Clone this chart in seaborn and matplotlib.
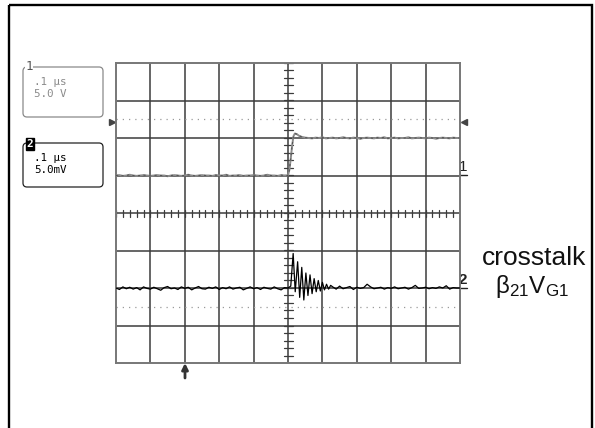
import numpy as np
import pandas as pd
import seaborn as sns
import matplotlib.pyplot as plt
from matplotlib.patches import FancyBboxPatch, Rectangle

# time base: 0.1 us/div, 10 divisions, trigger at centre; values in divisions
t1_pre = np.linspace(-0.5, 0.0, 51)
v1_pre = [1.00, 1.01, 0.99, 1.00, 1.02, 1.00, 0.99, 1.00, 1.01, 1.00,
          0.99, 1.00, 1.01, 1.00, 1.00, 0.98, 1.00, 1.01, 1.00, 0.99,
          1.00, 1.02, 1.00, 0.99, 1.00, 1.01, 1.00, 1.00, 0.99, 1.01,
          1.00, 1.00, 1.02, 0.99, 1.00, 1.00, 1.01, 0.99, 1.00, 1.00,
          1.01, 1.00, 0.99, 1.00, 1.02, 1.00, 1.00, 0.99, 1.01, 1.00, 1.00]
t1_step = [0.004, 0.008, 0.012, 0.016, 0.020, 0.026, 0.032, 0.040, 0.050]
v1_step = [1.15, 1.45, 1.80, 2.05, 2.12, 2.10, 2.06, 2.03, 2.01]
t1_post = np.linspace(0.06, 0.5, 45)
v1_post = [2.00, 1.99, 2.01, 2.00, 2.02, 1.99, 2.00, 2.01, 1.99, 2.00,
           2.02, 2.00, 1.99, 2.01, 2.00, 1.98, 2.00, 2.01, 2.00, 1.99,
           2.01, 2.00, 2.02, 1.99, 2.00, 2.01, 1.99, 2.00, 2.00, 2.02,
           1.99, 2.00, 2.01, 2.00, 1.99, 2.01, 2.00, 1.98, 2.00, 2.01,
           2.00, 1.99, 2.01, 2.00, 2.00]

t2_pre = np.linspace(-0.5, 0.0, 51)
v2_pre = [-2.00, -2.04, -1.97, -2.02, -1.98, -2.03, -1.99, -2.05, -1.97, -2.01,
          -2.03, -1.98, -2.02, -2.06, -1.99, -1.96, -2.02, -2.00, -2.04, -1.97,
          -2.01, -1.98, -2.05, -2.00, -1.96, -2.02, -2.03, -1.98, -2.01, -1.97,
          -2.04, -1.99, -2.02, -1.97, -2.03, -2.00, -1.98, -2.05, -2.01, -1.97,
          -2.02, -1.99, -2.04, -1.98, -2.01, -2.03, -1.97, -2.02, -2.05, -1.99, -2.00]
t2_ring = [0.008, 0.015, 0.021, 0.028, 0.034, 0.040, 0.046, 0.052, 0.058, 0.064,
           0.070, 0.076, 0.082, 0.088, 0.094, 0.100, 0.106, 0.112, 0.118, 0.124]
v2_ring = [-1.95, -1.08, -2.10, -1.30, -2.25, -1.45, -2.32, -1.60, -2.20, -1.65,
           -2.15, -1.75, -2.10, -1.80, -2.08, -1.85, -2.05, -1.90, -2.03, -1.93]
t2_post = np.linspace(0.13, 0.5, 38)
v2_post = [-1.97, -2.03, -1.95, -2.02, -1.99, -1.96, -2.04, -1.98, -2.01, -1.99,
           -1.90, -1.97, -2.02, -2.00, -1.98, -2.03, -1.99, -2.01, -1.97, -2.02,
           -2.00, -1.98, -2.03, -1.99, -1.93, -2.01, -2.00, -1.98, -2.02, -1.99,
           -2.01, -1.97, -2.00, -1.94, -2.03, -1.99, -2.00, -2.00]

ch1 = pd.DataFrame({"t": np.concatenate([t1_pre, t1_step, t1_post]),
                    "v": np.concatenate([v1_pre, v1_step, v1_post])})
ch2 = pd.DataFrame({"t": np.concatenate([t2_pre, t2_ring, t2_post]),
                    "v": np.concatenate([v2_pre, v2_ring, v2_post])})

sns.set_style("white")
plt.rcParams["font.family"] = ["Liberation Sans", "DejaVu Sans"]
plt.rcParams["mathtext.fontset"] = "custom"
plt.rcParams["mathtext.rm"] = "Liberation Sans"

fig = plt.figure(figsize=(5.95, 4.28), dpi=100)

# pixel-space overlay for frame, readout boxes and annotations
bg = fig.add_axes([0, 0, 1, 1])
bg.set_xlim(0, 595)
bg.set_ylim(428, 0)
bg.axis("off")
bg.add_patch(Rectangle((9, 5), 583, 440, fill=False, lw=1.7, ec="black"))

grey = "#8a8a8a"
mono = "DejaVu Sans Mono"
bg.add_patch(FancyBboxPatch((23, 67), 80, 50, boxstyle="round,pad=0,rounding_size=4",
                            fill=False, ec=grey, lw=0.9))
bg.text(29, 66, "1", color="#555555", fontsize=9, ha="center", va="center",
        family=mono, bbox=dict(fc="white", ec="none", pad=0.3))
bg.text(34, 82, ".1 \u03bcs", color=grey, fontsize=7.8, family=mono, va="center")
bg.text(34, 94, "5.0 V", color=grey, fontsize=7.8, family=mono, va="center")

bg.add_patch(FancyBboxPatch((23, 143), 80, 44, boxstyle="round,pad=0,rounding_size=4",
                            fill=False, ec="#222222", lw=0.9))
bg.text(30, 144, "2", color="white", fontsize=8, fontweight="bold", ha="center", va="center",
        family=mono, bbox=dict(fc="black", ec="black", pad=0.7))
bg.text(34, 158, ".1 \u03bcs", color="black", fontsize=7.8, family=mono, va="center")
bg.text(34, 170, "5.0mV", color="black", fontsize=7.8, family=mono, va="center")

bg.text(534, 258, "crosstalk", fontsize=19, ha="center", va="center", color="#111111")
bg.text(532, 286, r"$\mathrm{\beta_{21}V_{G1}}$", fontsize=17.5, ha="center", va="center",
        color="#111111")

# scope graticule
ax = fig.add_axes([116 / 595, (428 - 363) / 428, 344 / 595, 300 / 428])
ax.set_xlim(-0.5, 0.5)
ax.set_ylim(-4, 4)
xpx = 1.0 / 344
ypx = 8.0 / 300
gc = "#3c3c3c"
for x in np.arange(-0.4, 0.45, 0.1):
    ax.axvline(x, color=gc, lw=1.1, zorder=1)
for y in range(-3, 4):
    ax.axhline(y, color=gc, lw=1.1, zorder=1)
for s in ax.spines.values():
    s.set_color("#777777")
    s.set_linewidth(1.4)
ax.set_xticks([])
ax.set_yticks([])
for y in (-2.5, 2.5):
    ax.axhline(y, color="#9a9a9a", lw=0.9, ls=(0, (1, 4)), zorder=1)
for k in np.arange(-0.5, 0.501, 0.02):
    ax.plot([k, k], [-3.5 * ypx, 3.5 * ypx], color=gc, lw=0.9, zorder=1)
for k in np.arange(-4, 4.01, 0.2):
    ax.plot([-4.5 * xpx, 4.5 * xpx], [k, k], color=gc, lw=0.9, zorder=1)

sns.lineplot(data=ch1, x="t", y="v", ax=ax, color="#8c8c8c", lw=1.4, zorder=3,
             estimator=None, sort=False)
sns.lineplot(data=ch1, x="t", y="v", ax=ax, color="#555555", lw=0.8, zorder=3,
             estimator=None, sort=False, ls=(0, (2, 3)))
sns.lineplot(data=ch2, x="t", y="v", ax=ax, color="black", lw=0.9, zorder=4,
             estimator=None, sort=False)
ax.set_xlabel("")
ax.set_ylabel("")

# channel markers, trigger level and trigger position
bg.text(463, 167, "1", fontsize=11, ha="center", va="center", color="#222222")
bg.plot([460, 467], [175, 175], color="#222222", lw=1)
bg.text(463, 280, "2", fontsize=11, ha="center", va="center", color="#222222", fontweight="bold")
bg.plot([460, 467], [288, 288], color="#222222", lw=1)
bg.plot([112], [121.5], marker=">", ms=4, color="#444444", ls="none")
bg.plot([464], [121.5], marker="<", ms=4, color="#444444", ls="none")
bg.annotate("", xy=(185, 363), xytext=(185, 378),
            arrowprops=dict(arrowstyle="-|>", color="#333333", lw=2.0, mutation_scale=9,
                            shrinkA=0, shrinkB=0))

fig.savefig("out.png", dpi=100)
